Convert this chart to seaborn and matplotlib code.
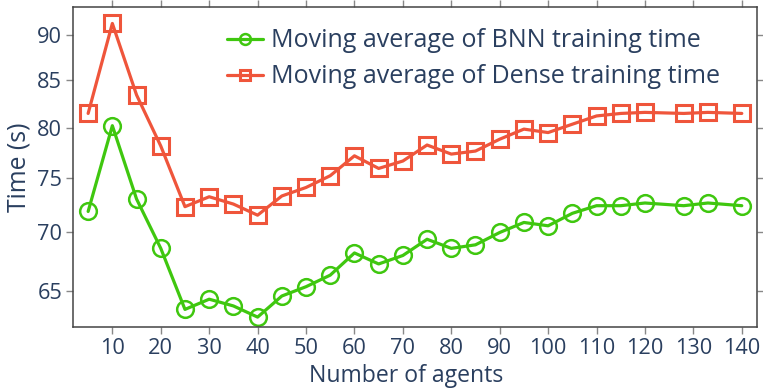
import numpy as np
import pandas as pd
import seaborn as sns
import matplotlib.pyplot as plt
from matplotlib.ticker import FixedLocator, FormatStrFormatter, NullLocator

############################################################## Data

agents = [5, 10, 15, 20, 25, 30, 35, 40, 45, 50, 55, 60, 65, 70, 75, 80, 85,
          90, 95, 100, 105, 110, 115, 120, 128, 133, 140]
bnn_time = [71.9, 80.2, 73.05, 68.6, 63.47, 64.3, 63.75, 62.85, 64.56, 65.33,
            66.3, 68.2, 67.25, 67.98, 69.4, 68.6, 68.91, 70.0, 70.9, 70.6,
            71.73, 72.43, 72.43, 72.68, 72.43, 72.68, 72.43]
dense_time = [81.46, 91.35, 83.4, 78.15, 72.34, 73.26, 72.58, 71.56, 73.33,
              74.13, 75.25, 77.18, 75.95, 76.67, 78.25, 77.35, 77.65, 78.83,
              79.85, 79.5, 80.35, 81.2, 81.46, 81.57, 81.46, 81.57, 81.46]
y_ticks = [65, 70, 75, 80, 85, 90]
x_ticks = list(range(10, 150, 10))

labels = ["Moving average of BNN training time", "Moving average of Dense training time"]
colors = ["#3fc70f", "#ef553b"]
text_color = "#2a3f5f"

############################################################## Plot

sns.set_style("white")
plt.rcParams['font.family'] = ['Open Sans', 'DejaVu Sans']

fig = plt.figure(figsize=(7.63, 3.9), dpi=100)
ax = fig.add_axes([0.0961, 0.1608, 0.8964, 0.8205])

sns.lineplot(x=agents, y=bnn_time, ax=ax, color=colors[0], lw=2.3, marker='o',
             markersize=12, markerfacecolor='none', markeredgecolor=colors[0],
             markeredgewidth=1.8, label=labels[0])
sns.lineplot(x=agents, y=dense_time, ax=ax, color=colors[1], lw=2.3, marker='s',
             markersize=12, markerfacecolor='none', markeredgecolor=colors[1],
             markeredgewidth=2.2, label=labels[1])

ax.set_yscale('log')
ax.set_ylim(62.04, 93.25)
ax.set_xlim(1.94, 143.2)
ax.yaxis.set_major_locator(FixedLocator(y_ticks))
ax.yaxis.set_major_formatter(FormatStrFormatter('%d'))
ax.yaxis.set_minor_locator(NullLocator())
ax.set_xticks(x_ticks)

for s in ax.spines.values():
    s.set_color('#444444')
    s.set_linewidth(1.1)
ax.tick_params(axis='both', which='major', direction='out', length=5, width=1,
               color='#888888', labelsize=15.7, labelcolor=text_color,
               top=True, right=True, bottom=True, left=True, pad=3)

ax.set_xlabel("Number of agents", fontsize=16.6, color=text_color)
ax.xaxis.set_label_coords(0.487, -0.115)
ax.set_ylabel("Time (s)", fontsize=17.8, color=text_color, labelpad=4)

leg = ax.legend(loc='upper left', bbox_to_anchor=(0.21, 0.965), frameon=False,
                fontsize=18, handlelength=1.45, handletextpad=0.3, labelspacing=0.44,
                borderaxespad=0, markerscale=0.65)
for t in leg.get_texts():
    t.set_color(text_color)

plt.savefig("out.png", dpi=100)
